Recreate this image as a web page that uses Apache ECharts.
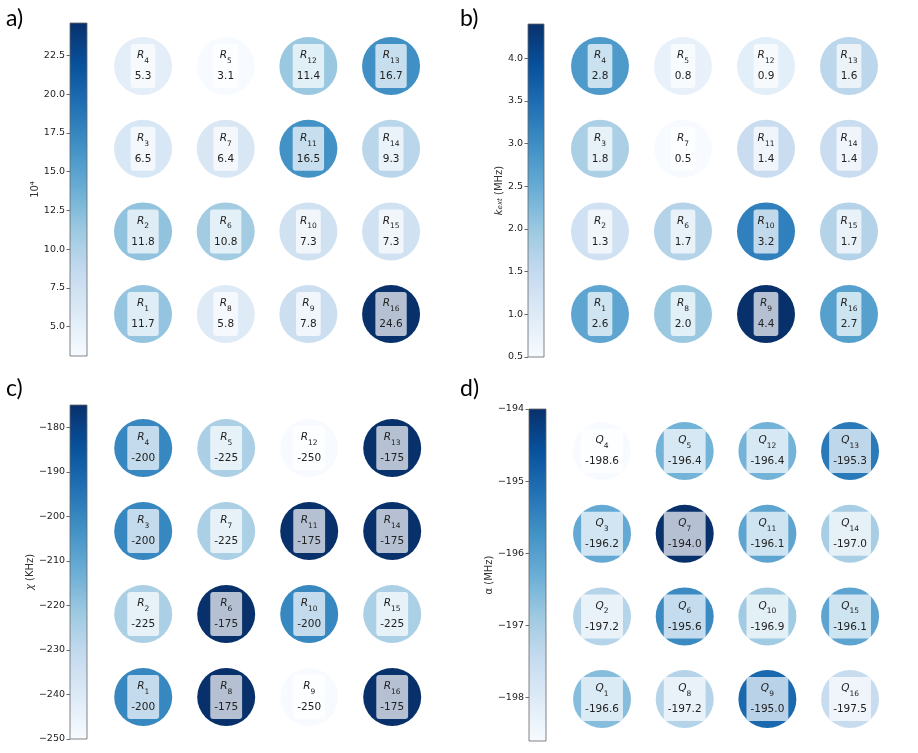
<!DOCTYPE html>
<html>
<head>
<meta charset="utf-8">
<script src="https://cdn.jsdelivr.net/npm/echarts@6.0.0/dist/echarts.min.js"></script>
<style>
    html, body { margin: 0; padding: 0; background: #fff; }
    #chart { width: 918px; height: 753px; }
</style>
</head>
<body>
<div id="chart"></div>
<script>
// chip layout, rows from top to bottom
var cellIds = [[4, 5, 12, 13], [3, 7, 11, 14], [2, 6, 10, 15], [1, 8, 9, 16]];

// values in the same order as cellIds (row by row)
var qValues = [5.3, 3.1, 11.4, 16.7, 6.5, 6.4, 16.5, 9.3, 11.8, 10.8, 7.3, 7.3, 11.7, 5.8, 7.8, 24.6];
var kappaValues = [2.8, 0.8, 0.9, 1.6, 1.8, 0.5, 1.4, 1.4, 1.3, 1.7, 3.2, 1.7, 2.6, 2.0, 4.4, 2.7];
var chiValues = [-200, -225, -250, -175, -200, -225, -175, -175, -225, -175, -200, -225, -200, -175, -250, -175];
var alphaValues = [-198.6, -196.4, -196.4, -195.3, -196.2, -194.0, -196.1, -197.0, -197.2, -195.6, -196.9, -196.1, -196.6, -197.2, -195.0, -197.5];

// colorbar tick labels
var qTicks = [5, 7.5, 10, 12.5, 15, 17.5, 20, 22.5];
var kappaTicks = [0.5, 1, 1.5, 2, 2.5, 3, 3.5, 4];
var chiTicks = [-250, -240, -230, -220, -210, -200, -190, -180];
var alphaTicks = [-198, -197, -196, -195, -194];

// matplotlib Blues
var blues = ['#f7fbff', '#deebf7', '#c6dbef', '#9ecae1', '#6baed6', '#4292c6', '#2171b5', '#08519c', '#08306b'];

var FONT = 'DejaVu Sans';

var panels = [
    {letter: 'a)', values: qValues, ticks: qTicks, prefix: 'R', digits: 1, tickDigits: 1,
        name: '10⁴', nameGap: 27,
        bar: {left: 70, top: 23, width: 17, height: 333},
        cells: {left: 101.7, top: 24.7, width: 330.7, height: 330.7},
        letterPos: [6, 7]},
    {letter: 'b)', values: kappaValues, ticks: kappaTicks, prefix: 'R', digits: 1, tickDigits: 1,
        name: '{i|k}{s|ext} (MHz)', nameGap: 21,
        bar: {left: 528, top: 24, width: 16, height: 333},
        cells: {left: 558.5, top: 24.7, width: 332, height: 330.7},
        letterPos: [460, 7]},
    {letter: 'c)', values: chiValues, ticks: chiTicks, prefix: 'R', digits: 0, tickDigits: 0,
        name: '{i|χ} (KHz)', nameGap: 32,
        bar: {left: 70, top: 405, width: 17, height: 334},
        cells: {left: 101.7, top: 406.5, width: 332, height: 332},
        letterPos: [6, 377]},
    {letter: 'd)', values: alphaValues, ticks: alphaTicks, prefix: 'Q', digits: 1, tickDigits: 0,
        name: 'α (MHz)', nameGap: 31,
        bar: {left: 529, top: 409, width: 17, height: 332},
        cells: {left: 560.7, top: 409.7, width: 330.7, height: 330.7},
        letterPos: [460, 377]}
];

function tickText(v, d) {
    var s = Math.abs(v).toFixed(d);
    return v < 0 ? '\u2212' + s : s;
}

var grid = [], xAxis = [], yAxis = [], series = [], visualMap = [], graphic = [];

panels.forEach(function (p, i) {
    var min = Math.min.apply(null, p.values);
    var max = Math.max.apply(null, p.values);

    // circles
    grid.push(p.cells);
    xAxis.push({type: 'value', gridIndex: 2 * i, min: -0.5, max: 3.5, show: false});
    yAxis.push({type: 'value', gridIndex: 2 * i, min: -0.5, max: 3.5, show: false});

    var data = [];
    cellIds.forEach(function (row, r) {
        row.forEach(function (id, c) {
            data.push([c, 3 - r, p.values[r * 4 + c], id]);
        });
    });

    series.push({
        type: 'scatter',
        xAxisIndex: 2 * i,
        yAxisIndex: 2 * i,
        symbol: 'circle',
        symbolSize: 58,
        data: data,
        silent: true,
        itemStyle: {opacity: 1},
        label: {
            show: true,
            position: 'inside',
            backgroundColor: 'rgba(255,255,255,0.7)',
            borderRadius: 3,
            padding: [1, 4],
            formatter: function (d) {
                var v = d.value[2];
                var txt = v.toFixed(p.digits);
                return '{r|' + p.prefix + '}{s|' + d.value[3] + '}\n{v|' + txt + '}';
            },
            rich: {
                r: {fontFamily: FONT, fontStyle: 'italic', fontSize: 10.5, lineHeight: 21, color: '#222'},
                s: {fontFamily: FONT, fontSize: 7.5, lineHeight: 21, color: '#222', verticalAlign: 'bottom', padding: [0, 0, 1, 0]},
                v: {fontFamily: FONT, fontSize: 10.5, lineHeight: 21, color: '#222'}
            }
        }
    });

    visualMap.push({
        type: 'continuous',
        show: false,
        seriesIndex: 2 * i,
        dimension: 2,
        min: min,
        max: max,
        inRange: {color: blues}
    });

    // colorbar
    grid.push(p.bar);
    xAxis.push({type: 'value', gridIndex: 2 * i + 1, min: 0, max: 1, show: false});
    yAxis.push({
        type: 'value',
        gridIndex: 2 * i + 1,
        min: min,
        max: max,
        position: 'left',
        name: p.name,
        nameLocation: 'middle',
        nameRotate: 90,
        nameGap: p.nameGap,
        nameTextStyle: {
            fontFamily: FONT, fontSize: 10, color: '#333',
            rich: {
                i: {fontFamily: FONT, fontStyle: 'italic', fontSize: 10, color: '#333'},
                s: {fontFamily: FONT, fontStyle: 'italic', fontSize: 7, color: '#333', verticalAlign: 'bottom'}
            }
        },
        axisLine: {show: false},
        splitLine: {show: false},
        axisTick: {show: true, length: 3.5, customValues: p.ticks, lineStyle: {color: '#444', width: 0.8}},
        axisLabel: {
            customValues: p.ticks,
            fontFamily: FONT, fontSize: 9.5, color: '#222', margin: 5,
            formatter: function (v) { return tickText(v, p.tickDigits); }
        }
    });

    var stops = blues.map(function (c, k) { return {offset: k / (blues.length - 1), color: c}; });
    series.push({
        type: 'custom',
        xAxisIndex: 2 * i + 1,
        yAxisIndex: 2 * i + 1,
        silent: true,
        data: [[0, min]],
        renderItem: function (params, api) {
            var cs = params.coordSys;
            return {
                type: 'rect',
                shape: {x: cs.x, y: cs.y, width: cs.width, height: cs.height},
                style: {
                    fill: new echarts.graphic.LinearGradient(0, 1, 0, 0, stops),
                    stroke: '#666',
                    lineWidth: 0.8
                }
            };
        }
    });

    graphic.push({
        type: 'text',
        left: p.letterPos[0],
        top: p.letterPos[1],
        style: {text: p.letter, fontFamily: 'Lato', fontSize: 23, fill: '#000'}
    });
});

var myChart = echarts.init(document.getElementById('chart'));
myChart.setOption({
    animation: false,
    backgroundColor: '#fff',
    grid: grid,
    xAxis: xAxis,
    yAxis: yAxis,
    visualMap: visualMap,
    series: series,
    graphic: graphic
});
</script>
</body>
</html>
